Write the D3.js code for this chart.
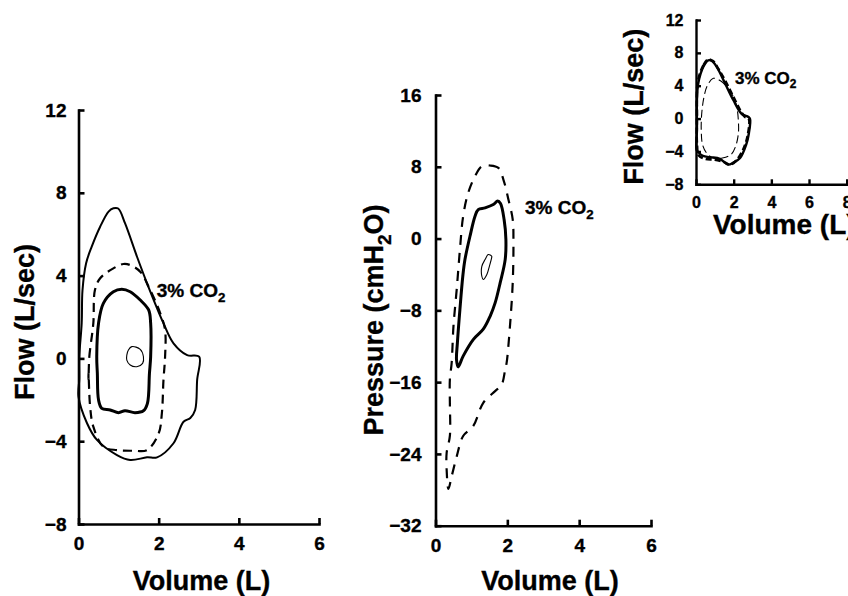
<!DOCTYPE html>
<html>
<head>
<meta charset="utf-8">
<script src="https://cdn.jsdelivr.net/npm/d3@7"></script>
<style>
  html, body { margin: 0; padding: 0; background: #fff; }
  svg { display: block; }
  text { font-family: "Liberation Sans", Arial, Helvetica, sans-serif; font-weight: bold; fill: #000; stroke: #000; stroke-width: 0.35px; }
</style>
</head>
<body>
<script>
// ---------------- DATA ----------------
// Left panel: Flow (L/sec) vs Volume (L)
const leftXTicks = [0, 2, 4, 6];
const leftYTicks = [-8, -4, 0, 4, 8, 12];
// [volume, flow]
const leftOuterSolid = [
  [0.02,-1.0],[0.02,0.08],[0.08,1.71],[0.10,3.30],[0.19,4.60],[0.33,5.40],[0.54,6.36],[0.75,7.09],
  [0.87,7.25],[0.99,7.24],[1.16,6.53],[1.46,4.91],[1.71,3.63],[2.12,1.70],[2.37,0.73],[2.71,0.16],
  [3.01,0.08],[2.96,-1.04],[2.91,-2.49],[2.79,-2.88],[2.62,-3.06],[2.37,-4.10],[1.96,-4.78],[1.71,-4.78],
  [1.29,-4.91],[0.96,-4.67],[0.46,-3.94],[0.21,-3.12],[0.0,-1.85]
];
const leftDashed = [
  [0.25,-1.04],[0.27,0.08],[0.37,1.70],[0.41,3.30],[0.54,3.87],[0.87,4.35],[1.12,4.56],[1.29,4.51],
  [1.54,4.19],[1.75,3.46],[2.04,2.18],[2.16,1.37],[2.16,0.08],[2.12,-1.04],[2.08,-2.65],[2.00,-3.62],
  [1.71,-4.43],[1.37,-4.46],[0.96,-4.43],[0.62,-4.27],[0.37,-3.30],[0.29,-2.33],[0.25,-0.70]
];
const leftInnerSolid = [
  [0.455,0.08],[0.50,1.70],[0.62,2.66],[0.87,3.22],[1.08,3.34],[1.29,3.22],[1.54,2.82],[1.75,2.34],
  [1.80,1.70],[1.80,0.08],[1.77,-0.72],[1.72,-2.17],[1.62,-2.53],[1.41,-2.62],[1.16,-2.53],[1.00,-2.62],
  [0.79,-2.49],[0.58,-2.41],[0.50,-2.01],[0.47,-0.72]
];
const leftTiny = [
  [1.245,0.41],[1.33,0.57],[1.54,0.44],[1.62,0.08],[1.60,-0.24],[1.455,-0.40],[1.29,-0.32],[1.205,-0.08],[1.205,0.16]
];

// Middle panel: Pressure (cmH2O) vs Volume (L)
const midXTicks = [0, 2, 4, 6];
const midYTicks = [-32, -24, -16, -8, 0, 8, 16];
// [volume, pressure]
const midSolid = [
  [0.63,-14.3],[0.585,-13.5],[0.61,-11.6],[0.68,-7.9],[0.76,-4.2],[0.82,-2.34],[0.96,0.26],[1.10,2.49],
  [1.19,3.23],[1.38,3.42],[1.61,3.79],[1.73,4.18],[1.81,3.90],[1.91,2.12],[1.96,-0.11],[1.94,-2.34],
  [1.80,-4.94],[1.66,-7.17],[1.52,-8.66],[1.33,-10.1],[1.05,-11.26],[0.77,-13.1]
];
const midDashed = [
  [1.29,8.06],[1.52,8.14],[1.75,7.88],[1.89,6.58],[2.03,4.35],[2.15,2.12],[2.17,-0.48],[2.15,-4.94],
  [2.08,-9.40],[1.98,-13.86],[1.94,-14.6],[1.84,-16.3],[1.66,-17.0],[1.33,-18.3],[1.05,-20.9],[0.77,-22.0],
  [0.59,-24.3],[0.45,-26.5],[0.36,-27.9],[0.31,-25.75],[0.31,-23.9],[0.40,-22.0],[0.40,-18.3],[0.40,-15.7],
  [0.45,-13.86],[0.50,-9.78],[0.59,-5.69],[0.68,-1.23],[0.77,2.49],[0.91,5.09],[1.10,6.95]
];
const midTiny = [
  [1.565,-1.97],[1.47,-1.78],[1.38,-2.34],[1.29,-3.09],[1.29,-4.20],[1.33,-4.57],[1.43,-4.01],[1.50,-3.09],[1.565,-2.10]
];

// Inset panel: Flow (L/sec) vs Volume (L)
const insetXTicks = [0, 2, 4, 6, 8];
const insetYTicks = [-8, -4, 0, 4, 8, 12];
const insetSolid = [
  [0.03,-3.8],[0.05,-1.4],[0.05,2.3],[0.12,4.3],[0.39,6.3],[0.65,7.1],[0.85,7.0],[1.10,6.3],[1.54,4.3],
  [1.98,2.26],[2.43,0.56],[2.78,0.2],[2.87,-0.05],[2.81,-1.75],[2.66,-3.2],[2.34,-4.8],[1.96,-5.4],
  [1.70,-5.6],[1.27,-4.9],[0.74,-4.7],[0.37,-4.55],[0.11,-4.07]
];
const insetDashedThick = [
  [0.10,4.5],[0.40,6.5],[0.65,7.2],[0.90,7.0],[1.20,6.0],[1.55,4.6],[1.95,2.8],[2.35,1.0],[2.60,0.2],
  [2.80,0.0],[2.75,-2.0],[2.50,-3.8],[2.10,-5.2],[1.80,-5.6],[1.50,-5.3],[1.00,-5.0],[0.50,-4.9],
  [0.15,-4.5],[0.05,-3.0],[0.05,0.0]
];
const insetDashedThin = [
  [0.92,4.9],[1.30,4.6],[1.63,3.9],[1.95,2.8],[2.16,1.45],[2.25,-0.3],[2.25,-1.8],[2.10,-3.4],[1.85,-4.4],
  [1.40,-4.8],[0.95,-4.8],[0.60,-4.3],[0.35,-3.2],[0.28,-1.5],[0.30,0.5],[0.42,2.6],[0.60,4.0]
];

// ---------------- DRAW ----------------
const W = 848, H = 596;
const svg = d3.select("body").append("svg").attr("width", W).attr("height", H);
const FONT = '"Liberation Sans", Arial, Helvetica, sans-serif';

function panel(cfg) {
  const x = d3.scaleLinear().domain(cfg.xDomain).range(cfg.xRange);
  const y = d3.scaleLinear().domain(cfg.yDomain).range(cfg.yRange);
  const g = svg.append("g");

  const xAxis = d3.axisBottom(x).tickValues(cfg.xTicks).tickFormat(d3.format("d"))
    .tickSizeInner(-cfg.tickLen).tickSizeOuter(0).tickPadding(cfg.xPad);
  const yAxis = d3.axisLeft(y).tickValues(cfg.yTicks).tickFormat(d3.format("d"))
    .tickSizeInner(-cfg.tickLen).tickSizeOuter(0).tickPadding(cfg.yPad);

  const gx = g.append("g").attr("transform", `translate(0,${cfg.yRange[0]})`).call(xAxis);
  const gy = g.append("g").attr("transform", `translate(${cfg.xRange[0]},0)`).call(yAxis);
  [gx, gy].forEach(a => {
    a.attr("font-family", null).attr("font-size", null);
    a.select(".domain").attr("stroke", "#000").attr("stroke-width", cfg.axisW).attr("stroke-linecap", "square");
    a.selectAll(".tick line").attr("stroke", "#000").attr("stroke-width", cfg.axisW);
    a.selectAll(".tick text")
      .style("font-size", cfg.tickFont + "px")
      .style("font-family", FONT)
      .style("font-weight", "bold")
      .style("fill", "#000");
  });

  const line = d3.line().x(d => x(d[0])).y(d => y(d[1])).curve(d3.curveCatmullRomClosed.alpha(0.5));
  cfg.curves.forEach(c => {
    g.append("path").attr("d", line(c.data)).attr("fill", "none").attr("stroke", "#000")
      .attr("stroke-width", c.w).attr("stroke-dasharray", c.dash || null)
      .attr("stroke-linejoin", "round").attr("stroke-linecap", c.dash ? "butt" : "round");
  });
  return {x, y, g};
}

panel({
  xDomain: [0, 6], xRange: [78.5, 319], yDomain: [-8, 12], yRange: [524, 110],
  xTicks: leftXTicks, yTicks: leftYTicks, tickLen: 6, xPad: 12.5, yPad: 12, axisW: 2.6, tickFont: 19,
  curves: [
    {data: leftOuterSolid, w: 2},
    {data: leftDashed, w: 2.2, dash: "9,6"},
    {data: leftInnerSolid, w: 3},
    {data: leftTiny, w: 1.1}
  ]
});
panel({
  xDomain: [0, 6], xRange: [435.5, 651], yDomain: [-32, 16], yRange: [525.7, 95],
  xTicks: midXTicks, yTicks: midYTicks, tickLen: 6, xPad: 12.5, yPad: 14, axisW: 2.6, tickFont: 19,
  curves: [
    {data: midDashed, w: 2.2, dash: "10,8"},
    {data: midSolid, w: 3},
    {data: midTiny, w: 1.1}
  ]
});
panel({
  xDomain: [0, 8], xRange: [696, 846.7], yDomain: [-8, 12], yRange: [184.3, 20],
  xTicks: insetXTicks, yTicks: insetYTicks, tickLen: 5, xPad: 12, yPad: 12.5, axisW: 2.4, tickFont: 16,
  curves: [
    {data: insetDashedThin, w: 1.1, dash: "8,4"},
    {data: insetSolid, w: 2.4},
    {data: insetDashedThick, w: 2.6, dash: "6,3"}
  ]
});

// Axis titles / annotations
function addParts(t, size, parts) {
  parts.forEach(p => {
    const ts = t.append("tspan").text(p.t);
    if (p.sub) ts.style("font-size", (size * 0.7) + "px").attr("dy", size * 0.28);
    if (p.back) ts.attr("dy", -size * 0.28);
  });
}
function vTitle(x, y, size, parts) {
  const t = svg.append("text").attr("transform", `translate(${x},${y}) rotate(-90)`)
    .attr("text-anchor", "middle").style("font-size", size + "px");
  addParts(t, size, parts);
  return t;
}
function hText(x, y, size, parts, anchor) {
  const t = svg.append("text").attr("x", x).attr("y", y).style("font-size", size + "px")
    .attr("text-anchor", anchor || "start");
  addParts(t, size, parts);
  return t;
}

vTitle(33.5, 322, 27, [{t: "Flow (L/sec)"}]);
hText(201.5, 590, 27, [{t: "Volume (L)"}], "middle");
vTitle(383, 320, 27, [{t: "Pressure (cmH"}, {t: "2", sub: true}, {t: "O)", back: true}]);
hText(550, 590, 27, [{t: "Volume (L)"}], "middle");
vTitle(643, 106.7, 27, [{t: "Flow (L/sec)"}]);
hText(713, 234, 28, [{t: "Volume (L)"}], "start");

hText(156.7, 297, 19, [{t: "3% CO"}, {t: "2", sub: true}]);
hText(525, 213.5, 19, [{t: "3% CO"}, {t: "2", sub: true}]);
hText(735, 83.5, 17, [{t: "3% CO"}, {t: "2", sub: true}]);
</script>
</body>
</html>
